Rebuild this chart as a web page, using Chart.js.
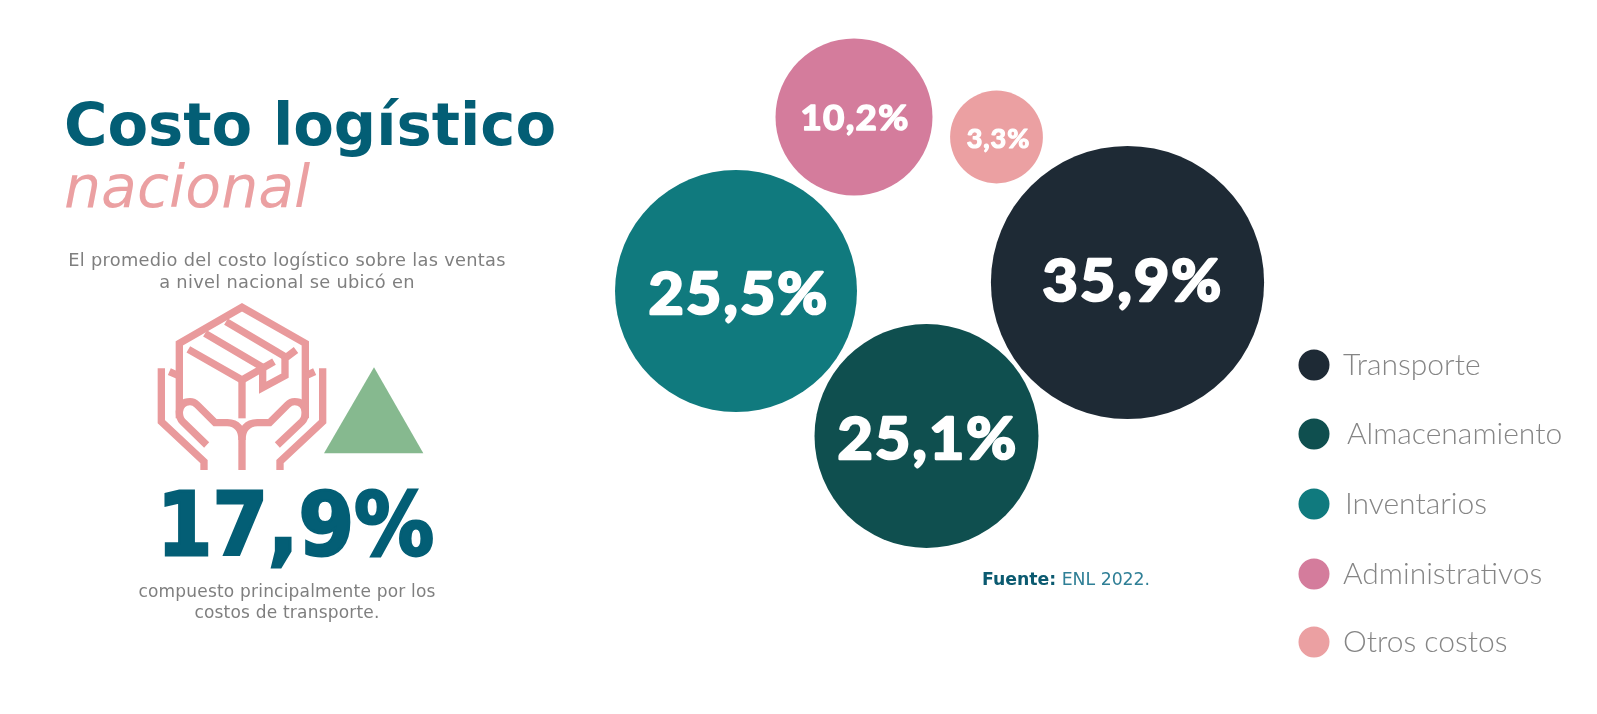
<!DOCTYPE html>
<html lang="es">
<head>
<meta charset="utf-8">
<title>Costo logístico nacional</title>
<script src="https://cdn.jsdelivr.net/npm/chart.js@4"></script>
<style>
html,body{margin:0;padding:0;background:#fff;width:1597px;height:714px;overflow:hidden}
#stage{position:relative;width:1597px;height:714px}
canvas{position:absolute;left:0;top:0}
.t{position:absolute;white-space:nowrap;font-family:"DejaVu Sans",sans-serif;line-height:1}
.c{transform:translateX(-50%)}
.dot{position:absolute;width:31px;height:31px;border-radius:50%;transform:translate(-50%,-50%)}
.lg{position:absolute;white-space:nowrap;font-family:Lato,sans-serif;font-weight:300;font-size:30px;color:#858585;line-height:1;transform:translateY(-50%)}
</style>
</head>
<body>
<div id="stage">
  <canvas id="chart" width="1597" height="714"></canvas>
  <div class="t" style="left:64px;top:95px;font-size:59.2px;font-weight:700;color:#035E75">Costo logístico</div>
  <div class="t" style="left:64px;top:158px;font-size:58.5px;font-style:italic;color:#EBA0A2">nacional</div>
  <div class="t c" style="left:287px;top:251px;font-size:17.8px;letter-spacing:.3px;color:#7f7f7f">El promedio del costo logístico sobre las ventas</div>
  <div class="t c" style="left:287px;top:273px;font-size:17.8px;letter-spacing:.3px;color:#7f7f7f">a nivel nacional se ubicó en</div>
  <svg style="position:absolute;left:140px;top:290px" width="290" height="180" viewBox="0 0 870 540">
    <g fill="none" stroke="#E99A9C" stroke-width="22">
      <path d="M118 385V160L306 52L496 160V385"/>
      <path d="M145 178L306 270L402 215"/>
      <path d="M306 270V385"/>
      <path d="M195 130L368 232V293L435 257V205L468 180"/>
      <path d="M258 95L435 200"/>
      <path d="M64 235V395L192 515V540"/>
      <path d="M548 235V395L420 515V540"/>
      <path d="M88 245L118 258M524 245L496 258"/>
      <path d="M200 465L128 395Q118 385 118 365Q122 335 150 335Q162 335 172 345L225 398H262Q306 400 306 450V540"/>
      <path d="M412 465L486 395Q496 385 496 365Q492 335 464 335Q452 335 442 345L389 398H352Q306 400 306 450"/>
    </g>
    <polygon points="702,232 850,490 552,490" fill="#86B98F"/>
  </svg>
  <div class="t c" id="big" style="left:295.5px;top:486px;font-size:80px;font-weight:700;color:#035E75;transform:translateX(-50%) scaleY(1.08);-webkit-text-stroke:2.6px #035E75">17,9%</div>
  <div class="t c" style="left:287px;top:583px;font-size:17px;letter-spacing:.2px;color:#7f7f7f">compuesto principalmente por los</div>
  <div class="t c" style="left:287px;top:604px;font-size:17px;letter-spacing:.2px;color:#7f7f7f">costos de transporte.</div>
  <div class="t" style="left:982px;top:571px;font-size:17.3px;color:#2F7F96"><b style="color:#0B5A70">Fuente:</b> ENL 2022.</div>
  <div id="legend"></div>
</div>
<script>
const categories = ["Transporte", "Almacenamiento", "Inventarios", "Administrativos", "Otros costos"];
const shares = [35.9, 25.1, 25.5, 10.2, 3.3];
const bubbleX = [1127.5, 926.5, 736, 854, 996.5];
const bubbleY = [282.5, 436, 291, 117, 137];
const bubbleR = [136.6, 112, 121, 78.5, 46.4];
const colors = ["#1E2A35", "#0F4F4F", "#107A7E", "#D47C9C", "#EBA0A2"];
const labelSize = [58, 58, 58, 35, 25.7];
const labelDx = [5.5, 1.5, 3, 1, 2];
const labelDy = [-2, 2.6, 2, 0, 2];
const legendY = [363, 432, 502, 572, 640];
const legendTextX = [1343, 1347, 1345, 1343, 1343];

const fmt = v => v.toFixed(1).replace(".", ",") + "%";

const valueLabels = {
  id: "valueLabels",
  afterDatasetsDraw(chart) {
    const ctx = chart.ctx;
    chart.getDatasetMeta(0).data.forEach((el, i) => {
      const size = labelSize[i];
      ctx.save();
      ctx.translate(el.x + labelDx[i], el.y + labelDy[i] + size * 0.36);
      ctx.scale(1.05, 1);
      ctx.fillStyle = "#fff";
      ctx.strokeStyle = "#fff";
      ctx.lineWidth = size * 0.045;
      ctx.lineJoin = "round";
      ctx.font = `700 ${size}px Lato, sans-serif`;
      ctx.letterSpacing = (size * 0.035) + "px";
      ctx.textAlign = "center";
      ctx.textBaseline = "alphabetic";
      ctx.strokeText(fmt(shares[i]), 0, 0);
      ctx.fillText(fmt(shares[i]), 0, 0);
      ctx.restore();
    });
  }
};

new Chart(document.getElementById("chart"), {
  type: "bubble",
  data: {
    labels: categories,
    datasets: [{
      data: categories.map((c, i) => ({ x: bubbleX[i], y: bubbleY[i], r: bubbleR[i] })),
      backgroundColor: colors,
      hoverBackgroundColor: colors,
      borderWidth: 0,
      clip: false
    }]
  },
  options: {
    responsive: false,
    animation: false,
    events: [],
    layout: { padding: 0, autoPadding: false },
    scales: {
      x: { type: "linear", min: 0, max: 1597, display: false },
      y: { type: "linear", min: 0, max: 714, reverse: true, display: false }
    },
    plugins: { legend: { display: false }, tooltip: { enabled: false } }
  },
  plugins: [valueLabels]
});

const legendEl = document.getElementById("legend");
categories.forEach((c, i) => {
  const d = document.createElement("div");
  d.className = "dot";
  d.style.left = "1313.5px";
  d.style.top = (legendY[i] + 2) + "px";
  d.style.background = colors[i];
  legendEl.appendChild(d);
  const s = document.createElement("div");
  s.className = "lg";
  s.style.left = legendTextX[i] + "px";
  s.style.top = legendY[i] + "px";
  s.textContent = c;
  legendEl.appendChild(s);
});
</script>
</body>
</html>
